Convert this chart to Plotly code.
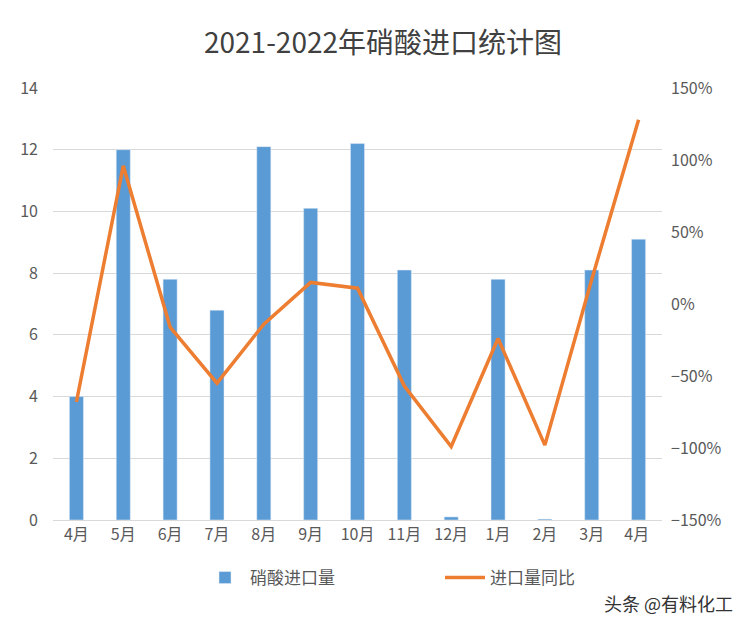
import plotly.graph_objects as go

months = ["4月", "5月", "6月", "7月", "8月", "9月", "10月", "11月", "12月", "1月", "2月", "3月", "4月 "]
import_volume = [4.0, 12.0, 7.8, 6.8, 12.1, 10.1, 12.2, 8.1, 0.1, 7.8, 0.03, 8.1, 9.1]
yoy_pct = [-68, 96, -16, -55, -14, 15, 11, -57, -99, -24, -98, 17, 128]

font_family = "Noto Sans CJK SC, Noto Sans, sans-serif"
tick_color = "#595959"

fig = go.Figure()
fig.add_trace(go.Bar(
    x=months, y=import_volume, name="硝酸进口量",
    marker_color="#5B9BD5", width=0.3,
))
fig.add_trace(go.Scatter(
    x=months, y=yoy_pct, name="进口量同比", yaxis="y2",
    mode="lines", line=dict(color="#ED7D31", width=3.5),
))

# page body adds an 8px offset, so margins are shifted to compensate
fig.update_layout(
    width=750, height=631,
    margin=dict(l=45, r=96, t=80, b=119),
    paper_bgcolor="white", plot_bgcolor="white",
    font=dict(family=font_family, color=tick_color, size=16),
    title=dict(text="2021-2022年硝酸进口统计图", x=0.5, xanchor="center", xref="container",
               y=1 - 35 / 631, yanchor="middle", yref="container",
               font=dict(size=28, color="#404040")),
    xaxis=dict(showgrid=False, showline=True, linecolor="#D9D9D9",
               tickfont=dict(size=16, color=tick_color), ticks=""),
    yaxis=dict(range=[0, 14], dtick=2, gridcolor="#D9D9D9", zeroline=False,
               showline=False, ticks="", ticklabelstandoff=14,
               tickfont=dict(size=16, color=tick_color)),
    yaxis2=dict(range=[-150, 150], dtick=50, overlaying="y", side="right",
                showgrid=False, zeroline=False, ticksuffix="%", ticklabelstandoff=8,
                tickfont=dict(size=16, color=tick_color)),
    legend=dict(orientation="h", xref="container", x=192 / 750, xanchor="left",
                yref="container", y=1 - 570 / 631, yanchor="middle",
                font=dict(size=17, color=tick_color),
                entrywidth=185, itemwidth=40),
    showlegend=True,
)

fig.add_annotation(text="头条 @有料化工", xref="paper", yref="paper",
                   x=(727 - 45) / 609, xanchor="right", y=-(595 - 512) / 432, yanchor="middle",
                   showarrow=False, font=dict(size=18, color="#333333"))

fig.write_html("out.html")
